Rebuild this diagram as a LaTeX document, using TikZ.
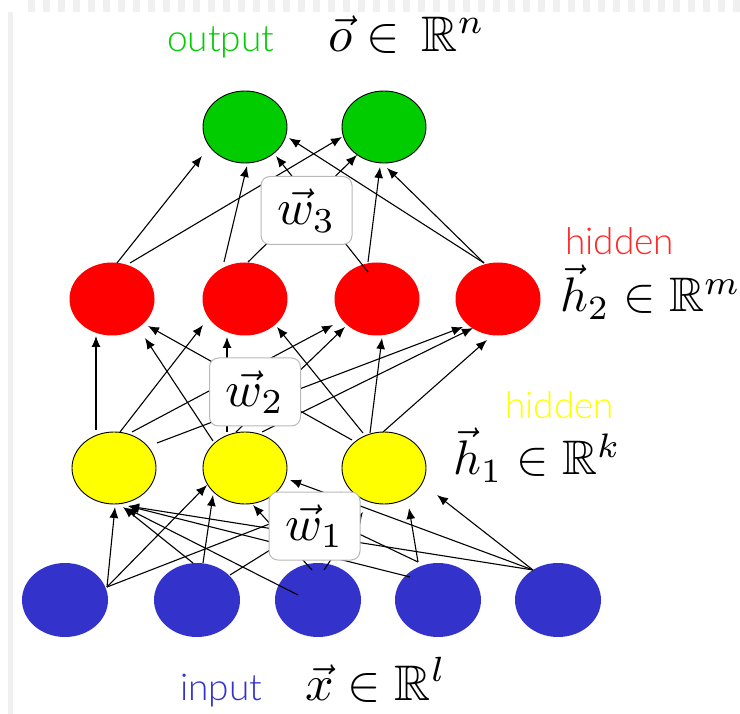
\documentclass[tikz,border=0pt]{standalone}
\usepackage{graphicx}
\usepackage{amssymb}
\usepackage{fontspec}
\newfontfamily\handfont{Lato Light}
\usetikzlibrary{shapes.geometric,arrows.meta}
\definecolor{outgreen}{RGB}{0,204,0}
\definecolor{hidred}{RGB}{255,40,40}
\definecolor{hidyellow}{RGB}{255,255,0}
\definecolor{inblue}{RGB}{51,51,204}
\newcommand\linkit[4]{\draw[conn] ([shift={(#2)}]#1.center) -- ([shift={(#4)}]#3.center);}
\newcommand\bigmath[1]{\scalebox{5}{$#1$}}
\newcommand\labmath[1]{\scalebox{4.85}{$#1$}}
\tikzset{
  neuron/.style={ellipse, inner sep=0pt, minimum width=85pt, minimum height=73pt},
  outn/.style={neuron, fill=outgreen, draw=black, line width=0.9pt, minimum width=84pt, minimum height=72pt},
  h2n/.style={neuron, fill=red},
  h1n/.style={neuron, fill=hidyellow, draw=black, line width=0.9pt, minimum width=84pt, minimum height=72pt},
  inn/.style={neuron, fill=inblue, minimum width=86pt, minimum height=74pt},
  conn/.style={-{Latex[length=11pt,width=9pt]}, line width=1.1pt},
  wbox/.style={draw=gray!55, fill=white, rounded corners=9pt, line width=1pt, minimum width=91pt, minimum height=68pt, inner sep=0pt},
  mathlab/.style={anchor=base west, inner sep=0pt},
  wordlab/.style={anchor=base west, inner sep=0pt, font=\handfont\fontsize{37}{44}\selectfont},
}
\begin{document}
\begin{tikzpicture}[x=1pt,y=-1pt]
\useasboundingbox (0,0) rectangle (740,714);
% slide frame remnants
\draw[gray!12, line width=12pt, dash pattern=on 7pt off 8pt] (28,6) -- (740,6);
\fill[gray!12] (8,12) rectangle (13,714);

% neurons
\node[outn] (o1) at (245,127) {};
\node[outn] (o2) at (384,127) {};
\node[h2n] (r1) at (112,299) {};
\node[h2n] (r2) at (245,299) {};
\node[h2n] (r3) at (377,299) {};
\node[h2n] (r4) at (498,299) {};
\node[h1n] (y1) at (114,468) {};
\node[h1n] (y2) at (245,468) {};
\node[h1n] (y3) at (384,468) {};
\node[inn] (b1) at (65,600) {};
\node[inn] (b2) at (197,600) {};
\node[inn] (b3) at (318,600) {};
\node[inn] (b4) at (438,600) {};
\node[inn] (b5) at (558,600) {};

% hidden2 -> output
\linkit{r1}{5,-36}{o1}{-43,29}
\linkit{r1}{18,-36}{o2}{-42,10}
\linkit{r2}{-21,-37}{o1}{2,39}
\linkit{r2}{3,-37}{o2}{-27,28}
\linkit{r3}{-9,-27}{o1}{31,29}
\linkit{r3}{-9,-37}{o2}{-4,40}
\linkit{r4}{-14,-36}{o1}{44,11}
\linkit{r4}{-14,-36}{o2}{3,41}

% hidden1 -> hidden2
\linkit{y1}{-18,-38}{r1}{-16,37}
\linkit{y1}{6,-36}{r2}{-42,26}
\linkit{y1}{18,-36}{r3}{-44,26}
\linkit{y1}{43,-25}{r4}{-35,28}
\linkit{y2}{-32,-27}{r1}{33,39}
\linkit{y2}{-18,-36}{r2}{-18,38}
\linkit{y2}{-9,-36}{r3}{-32,28}
\linkit{y2}{17,-36}{r4}{-25,29}
\linkit{y3}{-32,-28}{r1}{36,27}
\linkit{y3}{-21,-35}{r2}{32,28}
\linkit{y3}{-14,-35}{r3}{5,39}
\linkit{y3}{-1,-36}{r4}{-11,41}

% input -> hidden1
\linkit{b1}{42,-13}{y1}{1,39}
\linkit{b1}{42,-13}{y2}{-38,17}
\linkit{b1}{42,-13}{y3}{-32,24}
\linkit{b2}{-4,-37}{y1}{9,39}
\linkit{b2}{6,-37}{y2}{-32,27}
\linkit{b2}{33,-25}{y3}{-29,29}
\linkit{b3}{-20,-5}{y1}{12,40}
\linkit{b3}{-6,-30}{y2}{8,37}
\linkit{b3}{6,-30}{y3}{-21,44}
\linkit{b4}{-28,-23}{y1}{14,38}
\linkit{b4}{-20,-38}{y2}{30,26}
\linkit{b4}{-20,-38}{y3}{25,40}
\linkit{b5}{-25,-30}{y1}{14,38}
\linkit{b5}{-25,-30}{y2}{45,12}
\linkit{b5}{-25,-30}{y3}{53,27}

% weight boxes
\node[wbox] (w3) at (306.5,210.5) {\bigmath{\vec{w}_3}};
\node[wbox] (w2) at (255,392) {\bigmath{\vec{w}_2}};
\node[wbox] (w1) at (314.5,526) {\bigmath{\vec{w}_1}};

% labels
\node[wordlab, text=outgreen] (lout) at (167,52) {output};
\node[mathlab] (mout) at (328,52) {\bigmath{\vec{o}\in\,\mathbb{R}^n}};
\node[wordlab, text=hidred] (lh2) at (565,255) {hidden};
\node[mathlab] (mh2) at (560,312) {\labmath{\vec{h}_2\in\mathbb{R}^m}};
\node[wordlab, text=hidyellow] (lh1) at (505,418) {hidden};
\node[mathlab] (mh1) at (453,475) {\labmath{\vec{h}_1\in\mathbb{R}^k}};
\node[wordlab, text=inblue] (lin) at (180,700) {input};
\node[mathlab] (min) at (305,700) {\bigmath{\vec{x}\in\mathbb{R}^l}};
\end{tikzpicture}
\end{document}
